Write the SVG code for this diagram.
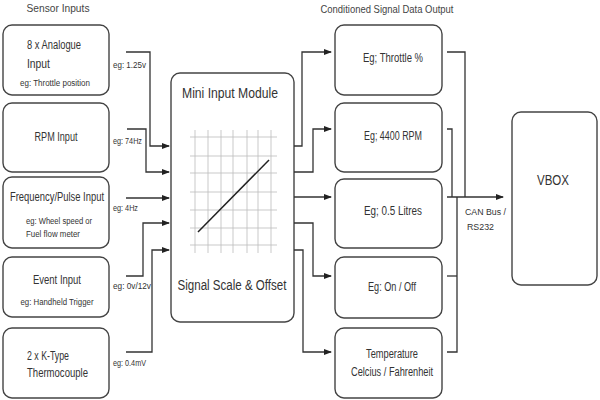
<svg xmlns="http://www.w3.org/2000/svg" width="600" height="400" viewBox="0 0 600 400">
<defs>
<marker id="ah" markerWidth="8" markerHeight="6" refX="7" refY="3" orient="auto" markerUnits="userSpaceOnUse"><path d="M0,0 L8,3 L0,6 z" fill="#222"/></marker>
<style>
.box{fill:#fff;stroke:#444;stroke-width:1.4}
text{font-family:"Liberation Sans","DejaVu Sans",sans-serif;fill:#333}
.t{font-size:12px}
.s{font-size:8.5px}
.h{font-size:10.5px;fill:#444}
.c{text-anchor:middle}
.ln{fill:none;stroke:#333;stroke-width:1.3}
.g{stroke:#bbb;stroke-width:0.8}
</style>
</defs>
<rect width="600" height="400" fill="#fff"/>
<text class="h c" x="58" y="12" textLength="63" lengthAdjust="spacingAndGlyphs">Sensor Inputs</text>
<text class="h c" x="387" y="13" textLength="133" lengthAdjust="spacingAndGlyphs">Conditioned Signal Data Output</text>

<g id="in1"><rect class="box" x="3" y="25" width="106" height="70" rx="9"/>
<text class="t" x="27" y="49" textLength="54" lengthAdjust="spacingAndGlyphs">8 x Analogue</text>
<text class="t" x="27" y="68" textLength="23" lengthAdjust="spacingAndGlyphs">Input</text>
<text class="s" x="20" y="86" textLength="70" lengthAdjust="spacingAndGlyphs">eg: Throttle position</text></g>
<g id="in2"><rect class="box" x="3" y="103" width="106" height="69" rx="9"/>
<text class="t c" x="56" y="141" textLength="43" lengthAdjust="spacingAndGlyphs">RPM Input</text></g>
<g id="in3"><rect class="box" x="3" y="177" width="106" height="71" rx="9"/>
<text class="t c" x="57" y="201" textLength="94" lengthAdjust="spacingAndGlyphs">Frequency/Pulse Input</text>
<text class="s" x="26" y="224" textLength="66" lengthAdjust="spacingAndGlyphs">eg: Wheel speed or</text>
<text class="s" x="26" y="237" textLength="54" lengthAdjust="spacingAndGlyphs">Fuel flow meter</text></g>
<g id="in4"><rect class="box" x="3" y="257" width="106" height="60" rx="9"/>
<text class="t c" x="57" y="284" textLength="48" lengthAdjust="spacingAndGlyphs">Event Input</text>
<text class="s c" x="57" y="305" textLength="73" lengthAdjust="spacingAndGlyphs">eg: Handheld Trigger</text></g>
<g id="in5"><rect class="box" x="3" y="328" width="106" height="70" rx="9"/>
<text class="t" x="27" y="360" textLength="42" lengthAdjust="spacingAndGlyphs">2 x K-Type</text>
<text class="t" x="27" y="377" textLength="61" lengthAdjust="spacingAndGlyphs">Thermocouple</text></g>

<g id="module"><rect class="box" x="171" y="73" width="123" height="249" rx="9"/>
<text class="c" x="230" y="98" font-size="14" textLength="96" lengthAdjust="spacingAndGlyphs">Mini Input  Module</text>
<g class="g">
<line x1="195" y1="130" x2="195" y2="253"/><line x1="208" y1="130" x2="208" y2="253"/><line x1="221" y1="130" x2="221" y2="253"/><line x1="233" y1="130" x2="233" y2="253"/><line x1="247" y1="130" x2="247" y2="253"/><line x1="258" y1="130" x2="258" y2="253"/><line x1="271" y1="130" x2="271" y2="253"/>
<line x1="190" y1="137" x2="277" y2="137"/><line x1="190" y1="156" x2="277" y2="156"/><line x1="190" y1="173" x2="277" y2="173"/><line x1="190" y1="192" x2="277" y2="192"/><line x1="190" y1="210" x2="277" y2="210"/><line x1="190" y1="228" x2="277" y2="228"/><line x1="190" y1="245" x2="277" y2="245"/>
</g>
<line x1="198" y1="232" x2="269" y2="160" stroke="#222" stroke-width="1.5"/>
<text class="c" x="232" y="290" font-size="14" textLength="109" lengthAdjust="spacingAndGlyphs">Signal Scale &amp; Offset</text></g>

<g id="out1"><rect class="box" x="335" y="25" width="107" height="70" rx="9"/>
<text class="t c" x="393" y="62" textLength="60" lengthAdjust="spacingAndGlyphs">Eg; Throttle %</text></g>
<g id="out2"><rect class="box" x="335" y="103" width="107" height="69" rx="9"/>
<text class="t c" x="393" y="140" textLength="58" lengthAdjust="spacingAndGlyphs">Eg; 4400 RPM</text></g>
<g id="out3"><rect class="box" x="335" y="179" width="107" height="69" rx="9"/>
<text class="t c" x="393" y="215" textLength="58" lengthAdjust="spacingAndGlyphs">Eg; 0.5 Litres</text></g>
<g id="out4"><rect class="box" x="335" y="257" width="107" height="61" rx="9"/>
<text class="t c" x="392" y="291" textLength="48" lengthAdjust="spacingAndGlyphs">Eg: On / Off</text></g>
<g id="out5"><rect class="box" x="335" y="328" width="107" height="70" rx="9"/>
<text class="t c" x="392" y="358" textLength="52" lengthAdjust="spacingAndGlyphs">Temperature</text>
<text class="t c" x="392" y="376" textLength="82" lengthAdjust="spacingAndGlyphs">Celcius / Fahrenheit</text></g>

<g id="vbox"><rect class="box" x="512" y="112" width="85" height="173" rx="9"/>
<text class="c" x="553" y="185" font-size="14" textLength="32" lengthAdjust="spacingAndGlyphs">VBOX</text></g>

<g id="connectors">
<path class="ln" d="M126,52 H150 V146 H169" marker-end="url(#ah)"/>
<path class="ln" d="M127,129 H146 V172 H169" marker-end="url(#ah)"/>
<path class="ln" d="M126,198 H169" marker-end="url(#ah)"/>
<path class="ln" d="M126,276 H143 V223 H169" marker-end="url(#ah)"/>
<path class="ln" d="M126,352 H152 V250 H169" marker-end="url(#ah)"/>
<path class="ln" d="M294,146 H302 V52 H331" marker-end="url(#ah)"/>
<path class="ln" d="M294,172 H313 V129 H331" marker-end="url(#ah)"/>
<path class="ln" d="M294,197 H331" marker-end="url(#ah)"/>
<path class="ln" d="M294,223 H313 V276 H331" marker-end="url(#ah)"/>
<path class="ln" d="M294,250 H303 V352 H331" marker-end="url(#ah)"/>
<path class="ln" d="M447,52 H465 V197"/>
<path class="ln" d="M447,129 H452 V197"/>
<path class="ln" d="M447,197 H503" marker-end="url(#ah)"/>
<path class="ln" d="M447,276 H457"/>
<path class="ln" d="M447,352 H457 V197"/>
</g>
<text class="s" x="113" y="68" textLength="33" lengthAdjust="spacingAndGlyphs">eg: 1.25v</text>
<text class="s" x="113" y="144" textLength="29" lengthAdjust="spacingAndGlyphs">eg: 74Hz</text>
<text class="s" x="113" y="211" textLength="25" lengthAdjust="spacingAndGlyphs">eg: 4Hz</text>
<text class="s" x="113" y="289" textLength="38" lengthAdjust="spacingAndGlyphs">eg: 0v/12v</text>
<text class="s" x="113" y="366" textLength="33" lengthAdjust="spacingAndGlyphs">eg: 0.4mV</text>
<text class="s" x="465" y="215" font-size="9.5" textLength="41" lengthAdjust="spacingAndGlyphs">CAN Bus /</text>
<text class="s" x="467" y="230" font-size="9.5" textLength="27" lengthAdjust="spacingAndGlyphs">RS232</text>
</svg>
